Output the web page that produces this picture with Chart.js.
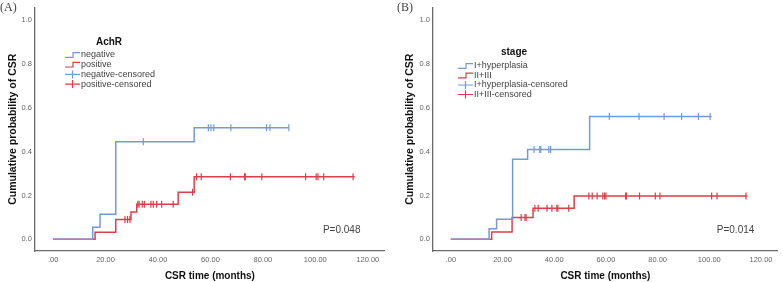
<!DOCTYPE html>
<html>
<head>
<meta charset="utf-8">
<script src="https://cdn.jsdelivr.net/npm/chart.js@4.4.0/dist/chart.umd.min.js"></script>
<style>
  body { margin: 0; background: #fff; }
  canvas { position: absolute; top: 0; }
</style>
</head>
<body>
<canvas id="chartA" width="390" height="282" style="left:0"></canvas>
<canvas id="chartB" width="393" height="282" style="left:390px"></canvas>
<script>
// axis ticks shared by both panels
const xTicks = [0, 20, 40, 60, 80, 100, 120];
const yTicks = [0, 0.2, 0.4, 0.6, 0.8, 1.0];

// panel A - AchR
const negTimes = [0, 15.1, 17.9, 23.9, 53.8, 89.9];
const negProb = [0, 0.055, 0.114, 0.445, 0.509, 0.509];
const negCensored = [34.4, 59.2, 60.2, 61.3, 67.8, 81.4, 82.7, 89.9];
const posTimes = [0, 16.0, 23.9, 29.7, 31.9, 47.7, 53.8, 115.0];
const posProb = [0, 0.032, 0.091, 0.125, 0.16, 0.215, 0.286, 0.286];
const posCensored = [27.4, 28.4, 29.3, 32.3, 32.8, 34.0, 34.8, 37.3, 38.2, 39.5, 41.4, 45.8, 53.2,
  54.7, 56.5, 67.6, 73.0, 73.3, 79.6, 96.3, 100.3, 101.0, 103.2, 114.4];

// panel B - stage
const ihTimes = [0, 14.8, 17.7, 23.9, 29.7, 53.7, 100.9];
const ihProb = [0, 0.048, 0.092, 0.365, 0.41, 0.56, 0.56];
const ihCensored = [32.2, 34.4, 34.8, 37.9, 38.6, 61.3, 72.8, 82.5, 89.3, 95.8, 100.3];
const stTimes = [0, 15.8, 23.7, 31.8, 47.7, 114.7];
const stProb = [0, 0.034, 0.1, 0.142, 0.198, 0.198];
const stCensored = [27.2, 28.7, 29.1, 32.5, 33.8, 37.2, 39.1, 41.0, 41.4, 45.6, 53.4, 54.7, 56.6,
  58.8, 59.5, 60.0, 67.6, 67.9, 73.0, 79.1, 80.9, 100.9, 103.0, 114.2];

const BLUE = "#6f9bdb";
const RED = "#dc3f4a";
const SANS = "'Liberation Sans', Arial, sans-serif";

function stepAt(times, probs, t) {
  let v = probs[0];
  for (let i = 0; i < times.length; i++) if (times[i] <= t) v = probs[i];
  return v;
}

function curve(label, times, probs, color) {
  return {
    label: label,
    data: times.map((t, i) => ({ x: t, y: probs[i] })),
    borderColor: color,
    borderWidth: 1.5,
    stepped: "before",
    pointRadius: 0,
    fill: false,
  };
}

function censored(label, times, stepTimes, stepProbs, color) {
  return {
    type: "scatter",
    label: label,
    data: times.map((t) => ({ x: t, y: stepAt(stepTimes, stepProbs, t) })),
    borderColor: color,
    backgroundColor: color,
    borderWidth: 1.2,
    pointStyle: "line",
    rotation: 90,
    pointRadius: 3.5,
    showLine: false,
  };
}

// legend, panel letter and p value drawn inside the plot
const annotations = {
  id: "kmText",
  afterDraw(chart, args, o) {
    const ctx = chart.ctx;
    const sx = chart.scales.x, sy = chart.scales.y;
    ctx.save();
    ctx.textBaseline = "middle";

    ctx.fillStyle = "#444";
    ctx.font = "12px 'Liberation Serif', 'Times New Roman', serif";
    ctx.textAlign = "left";
    ctx.fillText(o.letter, o.letterX, 8);

    ctx.fillStyle = "#444";
    ctx.font = "10px " + SANS;
    ctx.fillText(o.pText, sx.getPixelForValue(102.9), sy.getPixelForValue(0.04));

    ctx.fillStyle = "#111";
    ctx.font = "bold 10px " + SANS;
    ctx.textAlign = "center";
    ctx.fillText(o.title, o.titleX, o.titleY);

    ctx.textAlign = "left";
    ctx.font = "9px " + SANS;
    chart.data.datasets.forEach((ds, i) => {
      const y = o.itemY + i * o.itemGap;
      const x0 = o.symX;
      ctx.strokeStyle = ds.borderColor;
      ctx.lineWidth = 1.2;
      ctx.beginPath();
      if (ds.type === "scatter") {
        ctx.moveTo(x0, y); ctx.lineTo(x0 + 15, y);
        ctx.moveTo(x0 + 7.5, y - 4); ctx.lineTo(x0 + 7.5, y + 4);
      } else {
        ctx.moveTo(x0, y + 2.3); ctx.lineTo(x0 + 8, y + 2.3);
        ctx.lineTo(x0 + 8, y - 2.3); ctx.lineTo(x0 + 15, y - 2.3);
      }
      ctx.stroke();
      ctx.fillStyle = "#444";
      ctx.fillText(ds.label, x0 + 16, y);
    });
    ctx.restore();
  },
};

function makeChart(id, datasets, padLeft, padRight, yWidth, text) {
  return new Chart(document.getElementById(id), {
    type: "line",
    data: { datasets: datasets },
    plugins: [annotations],
    options: {
      responsive: false,
      animation: false,
      layout: { padding: { left: padLeft, right: padRight, top: 0, bottom: 0 } },
      plugins: { legend: { display: false }, tooltip: { enabled: false }, kmText: text },
      scales: {
        x: {
          type: "linear",
          min: -6.9,
          max: 126.5,
          grid: { display: false, drawTicks: false },
          border: { color: "#6b6b6b", width: 1.3 },
          afterBuildTicks: (s) => { s.ticks = xTicks.map((v) => ({ value: v })); },
          afterFit: (s) => { s.height = 31; },
          ticks: {
            autoSkip: false,
            maxRotation: 0,
            padding: 4,
            color: "#666",
            font: { family: SANS, size: 7.5 },
            callback: (v) => (v === 0 ? ".00" : v.toFixed(2)),
          },
          title: {
            display: true,
            text: "CSR time (months)",
            color: "#111",
            padding: 0,
            font: { family: SANS, size: 10, weight: "bold" },
          },
        },
        y: {
          min: -0.053,
          max: 1.057,
          grid: { display: false, drawTicks: false },
          border: { color: "#6b6b6b", width: 1.3 },
          afterBuildTicks: (s) => { s.ticks = yTicks.map((v) => ({ value: v })); },
          afterFit: (s) => { s.width = yWidth; },
          ticks: {
            padding: 3,
            color: "#666",
            font: { family: SANS, size: 7.5 },
            callback: (v) => v.toFixed(1),
          },
          title: {
            display: true,
            text: "Cumulative probability of CSR",
            color: "#111",
            padding: 0,
            font: { family: SANS, size: 10.5, weight: "bold" },
          },
        },
      },
    },
  });
}

makeChart("chartA", [
  curve("negative", negTimes, negProb, BLUE),
  curve("positive", posTimes, posProb, RED),
  censored("negative-censored", negCensored, negTimes, negProb, BLUE),
  censored("positive-censored", posCensored, posTimes, posProb, RED),
], 7, 5, 28, {
  letter: "(A)", letterX: 0, pText: "P=0.048",
  title: "AchR", titleX: 109, titleY: 42,
  symX: 65, itemY: 55, itemGap: 9.7,
});

makeChart("chartB", [
  curve("I+hyperplasia", ihTimes, ihProb, BLUE),
  curve("II+III", stTimes, stProb, RED),
  censored("I+hyperplasia-censored", ihCensored, ihTimes, ihProb, BLUE),
  censored("II+III-censored", stCensored, stTimes, stProb, RED),
], 14, 0, 29, {
  letter: "(B)", letterX: 7, pText: "P=0.014",
  title: "stage", titleX: 514 - 390, titleY: 52,
  symX: 458 - 390, itemY: 66, itemGap: 9.5,
});
</script>
</body>
</html>
